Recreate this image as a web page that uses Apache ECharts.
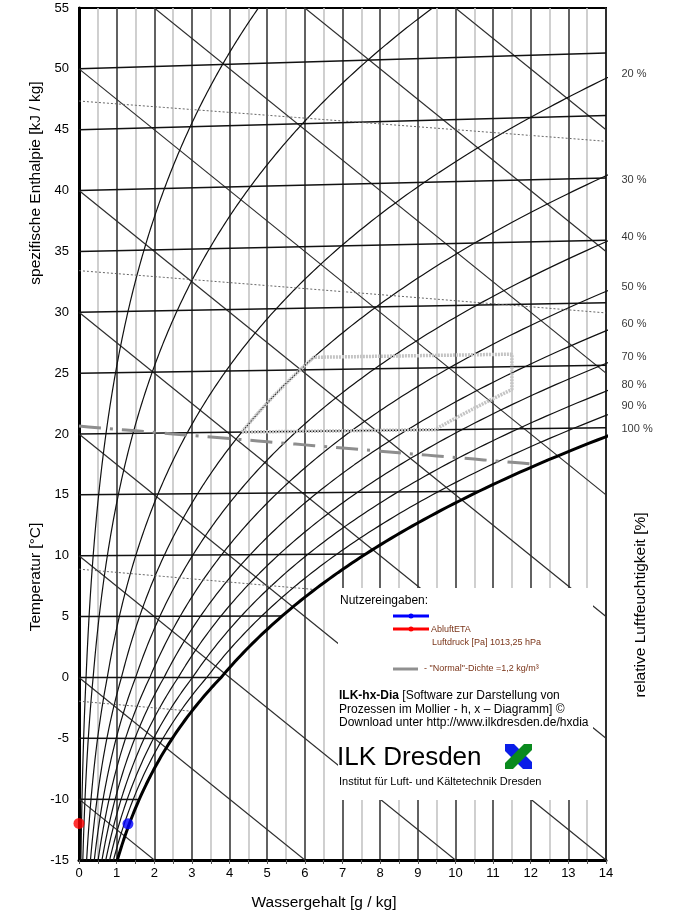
<!DOCTYPE html>
<html>
<head>
<meta charset="utf-8">
<title>ILK-hx-Dia</title>
<script src="https://cdn.jsdelivr.net/npm/echarts@6/dist/echarts.min.js"></script>
<style>
  html, body { margin: 0; padding: 0; background: #fff; }
  #chart { width: 675px; height: 913px; }
</style>
</head>
<body>
<div id="chart"></div>
<script>
// ---- Zustand / Eingaben ----
const airPressure = 101325;           // Luftdruck [Pa] (1013,25 hPa)
const gasConstAir = 287.4;            // J/(kg K), used for the density lines

// Lines of the h,x diagram
const isothermValues = [-10, -5, 0, 5, 10, 15, 20, 25, 30, 35, 40, 45, 50];      // °C
const enthalpyValues = [-10, 0, 10, 20, 30, 40, 50, 60, 70, 80, 90];               // kJ/kg
const rhValues = [5, 10, 20, 30, 40, 50, 60, 70, 80, 90];                          // %
const densityValues = [1.10, 1.15, 1.25, 1.30];                                    // kg/m³
const normalDensity = 1.2;                                                          // kg/m³

// Labels of the relative humidity curves at the right edge
const rhLabelText = ['20 %', '30 %', '40 %', '50 %', '60 %', '70 %', '80 %', '90 %', '100 %'];
const rhLabelY    = [49.6, 40.9, 36.2, 32.1, 29.0, 26.3, 24.0, 22.3, 20.4];

// Behaglichkeitsfeld: temperature range, humidity range, max. water content
const comfortTemp = [20, 26];
const comfortRh = [30, 65];
const comfortXMax = 11.5;

// Zustandspunkte (water content g/kg, temperature °C)
const pointBlue = [1.3, -12];
const pointRed  = [0.0, -12];

// Axis ranges
const xRange = [0, 14];
const yRange = [-15, 55];

// ---- psychrometrics ----
function pSat(t) {
  return t >= 0 ? 611.2 * Math.exp(17.62 * t / (243.12 + t))
                : 611.2 * Math.exp(22.46 * t / (272.62 + t));
}
function waterContent(t, phi) {
  const pv = phi * pSat(t);
  return 622 * pv / (airPressure - pv);
}
// skewed ordinate of the Mollier diagram (0 °C isotherm horizontal)
function ord(t, x) { return t * (1 + 0.00186 * x); }

function bisect(f, lo, hi) {
  let flo = f(lo);
  for (let i = 0; i < 60; i++) {
    const mid = (lo + hi) / 2, fm = f(mid);
    if ((fm < 0) === (flo < 0)) { lo = mid; flo = fm; } else { hi = mid; }
  }
  return (lo + hi) / 2;
}
function tempOnCurve(x, phi) { return bisect(t => waterContent(t, phi) - x, -40, 90); }

function densityTemp(rho, x) {
  return airPressure / (gasConstAir * rho * (1 + x / 1000)) - 273.15;
}
function densityLine(rho) {
  const xs = bisect(x => x - waterContent(densityTemp(rho, x), 1), 0, 40);
  const xEnd = Math.min(xRange[1], xs);
  const pts = [];
  for (let x = 0; x < xEnd; x += 0.25) {
    const t = densityTemp(rho, x);
    pts.push([x, ord(t, x)]);
  }
  const te = densityTemp(rho, xEnd);
  pts.push([xEnd, ord(te, xEnd)]);
  return pts;
}
function rhCurve(phi) {
  const pts = [];
  for (let t = -16; t <= 56.001; t += 0.25) {
    const x = waterContent(t, phi);
    pts.push([x, ord(t, x)]);
    if (x > 15) break;
  }
  return pts;
}
function comfortPolygon() {
  const pts = [];
  const phiLo = comfortRh[0] / 100, phiHi = comfortRh[1] / 100;
  for (let t = comfortTemp[0]; t <= comfortTemp[1] + 1e-9; t += 0.25) {
    const x = waterContent(t, phiLo);
    pts.push([x, ord(t, x)]);
  }
  pts.push([comfortXMax, ord(comfortTemp[1], comfortXMax)]);
  const tCorner = tempOnCurve(comfortXMax, phiHi);
  pts.push([comfortXMax, ord(tCorner, comfortXMax)]);
  for (let t = tCorner; t >= comfortTemp[0] - 1e-9; t -= 0.25) {
    const x = waterContent(t, phiHi);
    pts.push([x, ord(t, x)]);
  }
  const xb = waterContent(comfortTemp[0], phiHi);
  pts.push([xb, ord(comfortTemp[0], xb)]);
  pts.push(pts[0]);
  return pts;
}

// ---- series ----
const series = [];
function lineSeries(name, data, style, z) {
  series.push({
    name, type: 'line', data, showSymbol: false, symbol: 'none', silent: true,
    animation: false, clip: true, lineStyle: style, z: z || 2
  });
}

enthalpyValues.forEach(h => {
  lineSeries('h ' + h, [[0, h], [14, h - 2.5 * 14]], { color: '#2e2e2e', width: 1.2 }, 2);
});
isothermValues.forEach(t => {
  const xe = Math.min(xRange[1], waterContent(t, 1));
  lineSeries('t ' + t, [[0, ord(t, 0)], [xe, ord(t, xe)]], { color: '#111', width: 1.5 }, 3);
});
rhValues.forEach(r => {
  lineSeries('phi ' + r, rhCurve(r / 100), { color: '#111', width: 1.2 }, 3);
});
densityValues.forEach(d => {
  lineSeries('rho ' + d, densityLine(d), { color: '#666', width: 1, type: [2, 2] }, 4);
});
lineSeries('Normal-Dichte', densityLine(normalDensity),
  { color: '#8e8e8e', width: 3, type: [22, 9, 3, 9] }, 5);
lineSeries('Behaglichkeit', comfortPolygon(),
  { color: '#c4c4c4', width: 3.5, type: [2, 1] }, 5);
lineSeries('phi 100', rhCurve(1), { color: '#000', width: 3 }, 6);

series.push({
  name: 'Zustandspunkte', type: 'scatter', symbolSize: 11, z: 8, silent: true, animation: false,
  data: [
    { value: [pointBlue[0], ord(pointBlue[1], pointBlue[0])], itemStyle: { color: '#0000ff' } },
    { value: [pointRed[0], ord(pointRed[1], pointRed[0])], itemStyle: { color: '#ff0000' } }
  ],
  clip: false
});
series.push({
  name: 'phi-Beschriftung', type: 'scatter', symbolSize: 1, silent: true, animation: false, clip: false,
  itemStyle: { color: 'transparent' },
  data: rhLabelText.map((txt, i) => ({ name: txt, value: [xRange[1], rhLabelY[i]] })),
  label: {
    show: true, position: 'right', distance: 15, formatter: '{b}',
    fontSize: 11, color: '#000', fontFamily: 'Liberation Sans, Arial, sans-serif'
  }
});

// ---- option ----
const FONT = 'Liberation Sans, Arial, sans-serif';
const option = {
  backgroundColor: '#fff',
  animation: false,
  grid: { left: 79, top: 8, right: 69, bottom: 53, show: true, borderColor: '#000', borderWidth: 2 },
  xAxis: {
    type: 'value', min: xRange[0], max: xRange[1], interval: 0.5,
    axisLine: { show: true, onZero: false, lineStyle: { color: '#000', width: 3 } },
    axisTick: { show: true, length: 4, lineStyle: { color: '#555', width: 1 } },
    axisLabel: {
      formatter: v => (Math.abs(v - Math.round(v)) < 1e-6 ? String(Math.round(v)) : ''),
      fontSize: 13, color: '#000', margin: 7, fontFamily: FONT
    },
    splitLine: { show: true, lineStyle: { color: ['#3a3a3a', '#c4c4c4'], width: 1.6 } }
  },
  yAxis: {
    type: 'value', min: yRange[0], max: yRange[1], interval: 5,
    axisLine: { show: true, onZero: false, lineStyle: { color: '#000', width: 3 } },
    axisTick: { show: false },
    axisLabel: { fontSize: 13, color: '#000', margin: 10, fontFamily: FONT },
    splitLine: { show: false }
  },
  series,
  graphic: [
    { type: 'text', x: 36, y: 183, rotation: Math.PI / 2, z: 50,
      style: { text: 'spezifische Enthalpie [kJ / kg]', fontSize: 15.5, fontFamily: FONT, fill: '#000', align: 'center', verticalAlign: 'middle' } },
    { type: 'text', x: 36, y: 577, rotation: Math.PI / 2, z: 50,
      style: { text: 'Temperatur [°C]', fontSize: 15.5, fontFamily: FONT, fill: '#000', align: 'center', verticalAlign: 'middle' } },
    { type: 'text', x: 641, y: 605, rotation: Math.PI / 2, z: 50,
      style: { text: 'relative Luftfeuchtigkeit [%]', fontSize: 15.5, fontFamily: FONT, fill: '#000', align: 'center', verticalAlign: 'middle' } },
    { type: 'text', x: 324, y: 903, z: 50,
      style: { text: 'Wassergehalt [g / kg]', fontSize: 15.5, fontFamily: FONT, fill: '#000', align: 'center', verticalAlign: 'middle' } },
    // Info box
    { type: 'rect', z: 40, shape: { x: 338, y: 588, width: 255, height: 212 }, style: { fill: '#fff' } },
    { type: 'text', x: 340, y: 601, z: 41,
      style: { text: 'Nutzereingaben:', fontSize: 12, fontFamily: FONT, fill: '#000', verticalAlign: 'middle' } },
    { type: 'line', z: 41, shape: { x1: 393, y1: 616, x2: 429, y2: 616 }, style: { stroke: '#0000ff', lineWidth: 3 } },
    { type: 'circle', z: 42, shape: { cx: 411, cy: 616, r: 2.5 }, style: { fill: '#0000ff' } },
    { type: 'line', z: 41, shape: { x1: 393, y1: 629, x2: 429, y2: 629 }, style: { stroke: '#ff0000', lineWidth: 3 } },
    { type: 'circle', z: 42, shape: { cx: 411, cy: 629, r: 2.5 }, style: { fill: '#ff0000' } },
    { type: 'text', x: 431, y: 630, z: 41,
      style: { text: 'AbluftETA', fontSize: 9, fontFamily: FONT, fill: '#7a3418', verticalAlign: 'middle' } },
    { type: 'text', x: 432, y: 643, z: 41,
      style: { text: 'Luftdruck [Pa] 1013,25 hPa', fontSize: 9, fontFamily: FONT, fill: '#7a3418', verticalAlign: 'middle' } },
    { type: 'line', z: 41, shape: { x1: 393, y1: 669, x2: 418, y2: 669 }, style: { stroke: '#909090', lineWidth: 3 } },
    { type: 'text', x: 424, y: 669, z: 41,
      style: { text: '- "Normal"-Dichte =1,2 kg/m³', fontSize: 9, fontFamily: FONT, fill: '#7a3418', verticalAlign: 'middle' } },
    { type: 'text', x: 339, y: 689, z: 41,
      style: {
        text: '{b|ILK-hx-Dia} [Software zur Darstellung von\nProzessen im Mollier - h, x – Diagramm] ©\nDownload unter http://www.ilkdresden.de/hxdia',
        fontSize: 12, fontFamily: FONT, fill: '#000', lineHeight: 13.5, verticalAlign: 'top',
        rich: { b: { fontWeight: 'bold', fontSize: 12, fontFamily: FONT, fill: '#000', lineHeight: 13.5 } }
      } },
    { type: 'text', x: 337, y: 758, z: 41,
      style: { text: 'ILK Dresden', fontSize: 26, fontFamily: FONT, fill: '#000', verticalAlign: 'middle' } },
    { type: 'text', x: 339, y: 782, z: 41,
      style: { text: 'Institut für Luft- und Kältetechnik Dresden', fontSize: 11, fontFamily: FONT, fill: '#000', verticalAlign: 'middle' } },
    // Logo
    { type: 'polygon', z: 41, shape: { points: [[505, 744], [514, 744], [532, 762], [532, 769], [523, 769], [505, 751]] }, style: { fill: '#0a1ee8' } },
    { type: 'polygon', z: 42, shape: { points: [[505, 763], [524, 744], [532, 744], [532, 750], [513, 769], [505, 769]] }, style: { fill: '#0a8a1e' } }
  ]
};

const chart = echarts.init(document.getElementById('chart'), null, { renderer: 'canvas' });
chart.setOption(option);
</script>
</body>
</html>
